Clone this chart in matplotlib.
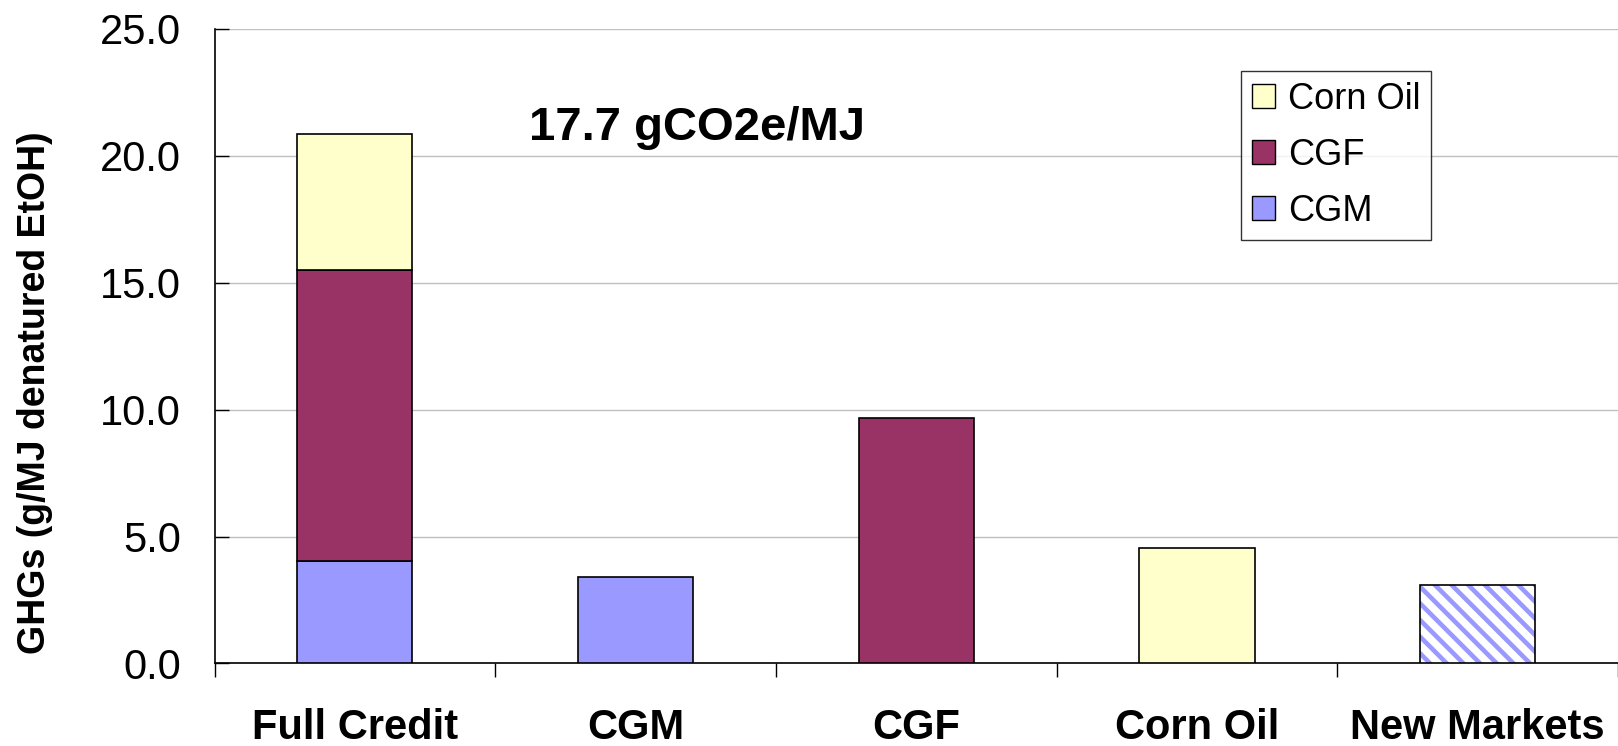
import numpy as np
import matplotlib.pyplot as plt
from matplotlib.patches import Patch

plt.rcParams['font.family'] = ['Liberation Sans', 'DejaVu Sans']
plt.rcParams['hatch.linewidth'] = 3.3

categories = ['Full Credit', 'CGM', 'CGF', 'Corn Oil', 'New Markets']
# stacked components of the "Full Credit" bar
full_cgm = 4.02
full_cgf = 11.47
full_oil = 5.36
# single bars
single_vals = [3.42, 9.68, 4.55, 3.09]
single_kind = ['CGM', 'CGF', 'Corn Oil', 'New Markets']
yticks = [0, 5, 10, 15, 20, 25]
note = '17.7 gCO2e/MJ'

colors = {'CGM': '#9999FF', 'CGF': '#993366', 'Corn Oil': '#FFFFCC'}

fig = plt.figure(figsize=(16.18, 7.46), dpi=100)
ax = fig.add_axes([0.1326, 0.1106, 0.8674, 0.8507])

x = np.arange(len(categories))
w = 0.41
lw = 1.2

ax.bar(x[0], full_cgm, w, color=colors['CGM'], edgecolor='black', linewidth=lw, zorder=3)
ax.bar(x[0], full_cgf, w, bottom=full_cgm, color=colors['CGF'], edgecolor='black', linewidth=lw, zorder=3)
ax.bar(x[0], full_oil, w, bottom=full_cgm + full_cgf, color=colors['Corn Oil'], edgecolor='black', linewidth=lw, zorder=3)

for xi, v, kind in zip(x[1:], single_vals, single_kind):
    if kind == 'New Markets':
        ax.bar(xi, v, w, color='white', edgecolor=colors['CGM'], hatch='\\\\', linewidth=0, zorder=3)
        ax.bar(xi, v, w, color='none', edgecolor='black', linewidth=lw, zorder=4)
    else:
        ax.bar(xi, v, w, color=colors[kind], edgecolor='black', linewidth=lw, zorder=3)

ax.text(0.62, 21.1, note, fontsize=34, fontweight='bold', ha='left', va='center')

ax.set_xlim(-0.5, 4.5)
ax.set_ylim(0, 25)
ax.set_yticks(yticks)
ax.set_yticklabels(['%.1f' % t for t in yticks], fontsize=30)
ax.tick_params(axis='y', direction='in', length=10, width=1, pad=24)
ax.yaxis.grid(True, color='#c0c0c0', linewidth=1, zorder=0)

ax.set_xticks(x)
ax.set_xticklabels(categories, fontsize=30, fontweight='bold')
ax.tick_params(axis='x', which='major', length=0, pad=32)
ax.set_xticks(np.arange(-0.5, 4.6, 1), minor=True)
ax.tick_params(axis='x', which='minor', direction='out', length=10, width=1)

for s in ['top', 'right']:
    ax.spines[s].set_visible(False)
ax.spines['left'].set_linewidth(1.2)
ax.spines['bottom'].set_linewidth(1.2)

ax.set_ylabel('GHGs (g/MJ denatured EtOH)', fontsize=27, fontweight='bold')
ax.yaxis.set_label_coords(-0.115, 0.426)

handles = [Patch(facecolor=colors[k], edgecolor='black', label=k) for k in ['Corn Oil', 'CGF', 'CGM']]
leg = ax.legend(handles=handles, loc='upper left', bbox_to_anchor=(0.7314, 0.9337),
                borderaxespad=0, fontsize=26, frameon=True, fancybox=False, labelspacing=0.58,
                handlelength=0.64, handleheight=0.64, handletextpad=0.36, borderpad=0.3)
leg.get_frame().set_edgecolor('black')
leg.get_frame().set_linewidth(1)

fig.savefig('out.png', dpi=100)
